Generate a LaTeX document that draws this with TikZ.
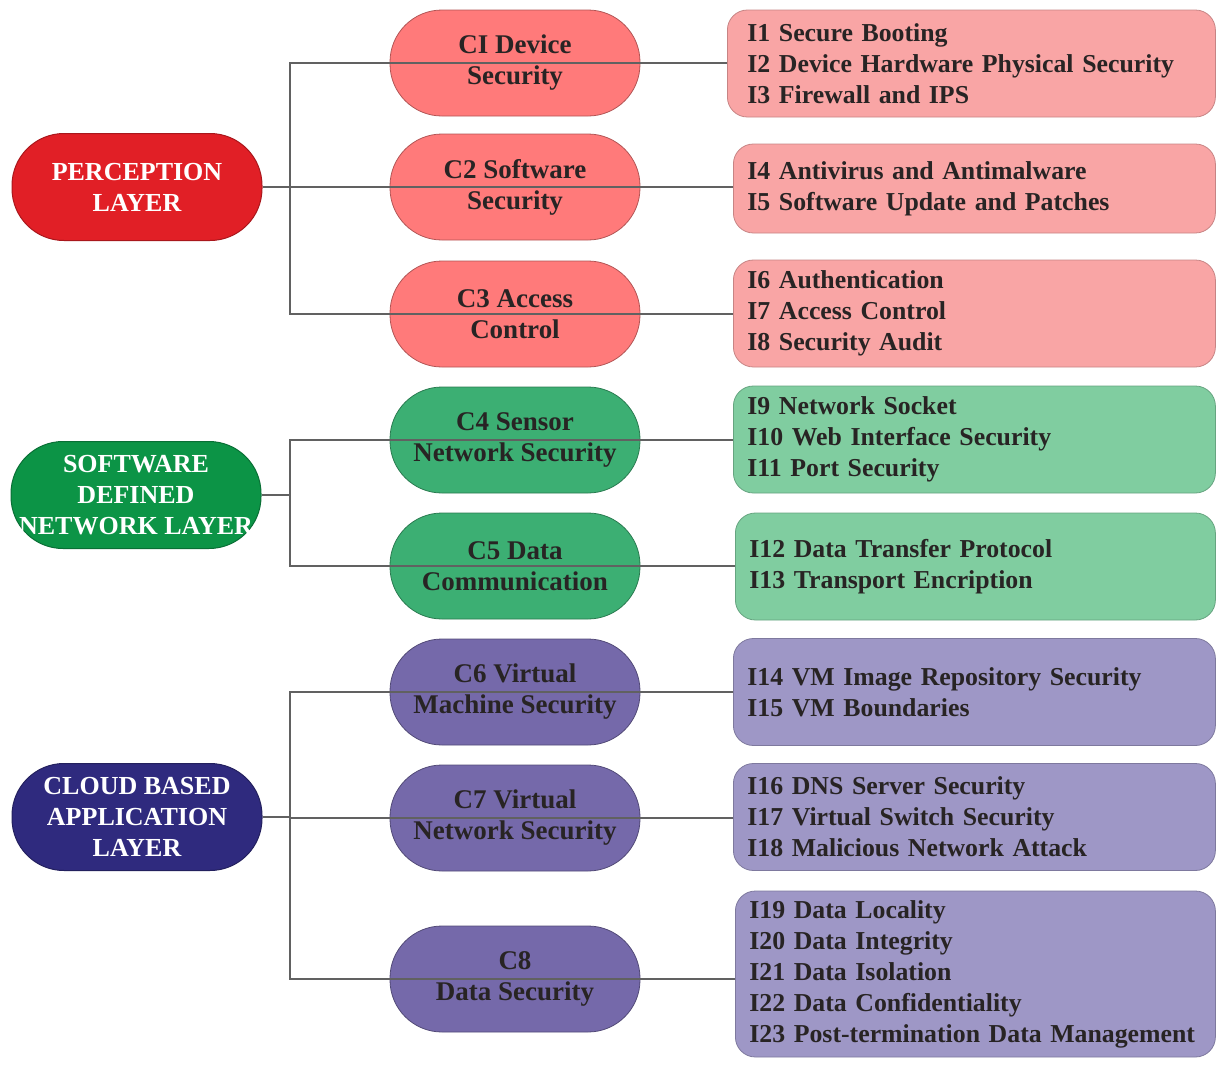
\documentclass[tikz,border=0pt]{standalone}
\usepackage{fontspec}
\setmainfont{Liberation Serif}
\usetikzlibrary{positioning}
\definecolor{PerRed}{RGB}{225, 31, 38}
\definecolor{SdnGreen}{RGB}{12, 148, 70}
\definecolor{CldBlue}{RGB}{47, 42, 126}
\definecolor{CatRed}{RGB}{255, 122, 122}
\definecolor{CatGreen}{RGB}{60, 175, 115}
\definecolor{CatPurple}{RGB}{117, 105, 170}
\definecolor{ItmRed}{RGB}{249, 165, 165}
\definecolor{ItmGreen}{RGB}{128, 205, 160}
\definecolor{ItmPurple}{RGB}{158, 151, 198}
\definecolor{TxtDark}{RGB}{40, 36, 36}
\newlength\pxu
\setlength\pxu{0.5pt}

\begin{document}
\begin{tikzpicture}[
    x=\pxu, y=-\pxu,
    txt/.style={font=\bfseries\fontsize{#1}{15.5}\selectfont},
    layer/.style={txt=13, rectangle, rounded corners=26pt, draw=#1!75!black,
                  fill=#1, text=white, minimum width=250\pxu, minimum height=107\pxu,
                  align=center, inner sep=0pt, line width=0.5pt},
    cat/.style={txt=13.5, rectangle, rounded corners=26pt, draw=#1!70!black,
                fill=#1, text=TxtDark, minimum width=250\pxu, minimum height=106\pxu,
                align=center, inner sep=0pt, line width=0.4pt},
    itm/.style={txt=12.9, draw=#1!80!black, fill=#1, text=TxtDark, rounded corners=10pt,
                anchor=west, align=left, inner xsep=7pt, inner ysep=0pt,
                text width=227pt, minimum height=107\pxu, line width=0.4pt},
    link/.style={draw=black!62, line width=0.6pt}
    ]
    \useasboundingbox (0,0) rectangle (1223,1067);

    % layers
    \node[layer=PerRed]   (per) at (137,187) {PERCEPTION\\LAYER};
    \node[layer=SdnGreen] (sdn) at (136,495) {SOFTWARE\\DEFINED\\NETWORK LAYER};
    \node[layer=CldBlue]  (cld) at (137,817) {CLOUD BASED\\APPLICATION\\LAYER};

    % categories
    \node[cat=CatRed]    (c1) at (515,63)  {CI Device\\Security};
    \node[cat=CatRed]    (c2) at (515,187) {C2 Software\\Security};
    \node[cat=CatRed]    (c3) at (515,314) {C3 Access\\Control};
    \node[cat=CatGreen]  (c4) at (515,440) {C4 Sensor\\Network Security};
    \node[cat=CatGreen]  (c5) at (515,566) {C5 Data\\Communication};
    \node[cat=CatPurple] (c6) at (515,692) {C6 Virtual\\Machine Security};
    \node[cat=CatPurple] (c7) at (515,818) {C7 Virtual\\Network Security};
    \node[cat=CatPurple] (c8) at (515,979) {C8\\Data Security};

    % items
    \node[itm=ItmRed, inner xsep=10pt, text width=224pt] (i1) at (727,63.5)
      {I1 Secure Booting\\I2 Device Hardware Physical Security\\I3 Firewall and IPS};
    \node[itm=ItmRed, minimum height=89\pxu] (i2) at (733,188.5)
      {I4 Antivirus and Antimalware\\I5 Software Update and Patches};
    \node[itm=ItmRed] (i3) at (733,313.5)
      {I6 Authentication\\I7 Access Control\\I8 Security Audit};
    \node[itm=ItmGreen] (i4) at (733,439.5)
      {I9 Network Socket\\I10 Web Interface Security\\I11 Port Security};
    \node[itm=ItmGreen, text width=226pt] (i5) at (735,566.5)
      {I12 Data Transfer Protocol\\I13 Transport Encription};
    \node[itm=ItmPurple] (i6) at (733,692)
      {I14 VM Image Repository Security\\I15 VM Boundaries};
    \node[itm=ItmPurple] (i7) at (733,817)
      {I16 DNS Server Security\\I17 Virtual Switch Security\\I18 Malicious Network Attack};
    \node[itm=ItmPurple, text width=226pt, minimum height=166\pxu] (i8) at (735,974)
      {I19 Data Locality\\I20 Data Integrity\\I21 Data Isolation\\I22 Data Confidentiality\\I23 Post-termination Data Management};

    % connectors
    \coordinate (jx) at (290,0);
    \foreach \l in {per, sdn, cld}
      \draw[link] (\l.east) -- (\l.east -| jx);
    \foreach \l/\c/\i in {per/c1/i1, per/c2/i2, per/c3/i3, sdn/c4/i4, sdn/c5/i5,
                          cld/c6/i6, cld/c7/i7, cld/c8/i8}
      \draw[link] (\l.east -| jx) |- (\i.west |- \c);
\end{tikzpicture}
\end{document}
